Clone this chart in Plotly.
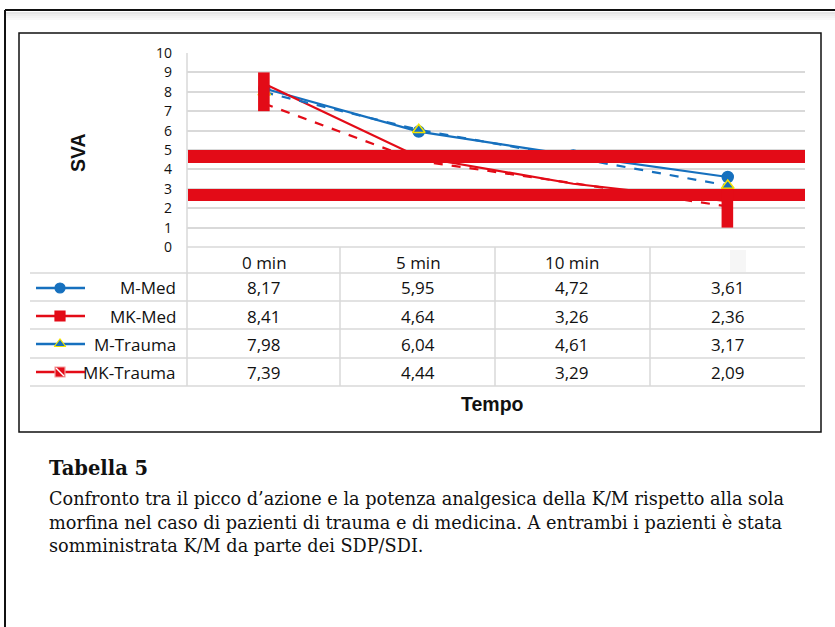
import plotly.graph_objects as go

W, H = 835, 627

categories = ["0 min", "5 min", "10 min", ""]
series_names = ["M-Med", "MK-Med", "M-Trauma", "MK-Trauma"]
m_med = [8.17, 5.95, 4.72, 3.61]
mk_med = [8.41, 4.64, 3.26, 2.36]
m_trauma = [7.98, 6.04, 4.61, 3.17]
mk_trauma = [7.39, 4.44, 3.29, 2.09]
y_ticks = list(range(0, 11))

# rendering artefacts seen in the reference (thick red bands / bars)
band_ranges = [(4.33, 5.0), (2.37, 2.99)]
bar_specs = [(0, 7.0, 9.0), (3, 1.0, 3.0)]

BLUE = "#1670BE"
RED = "#E30B17"
GRID = "#D9D9D9"


def px(x):
    return x / W


def py(y):
    return 1 - y / H


x_left, x_right = 187, 805
y_top, y_bot = 53, 247

fig = go.Figure()

xs = list(range(len(categories)))
styles = [
    (m_med, BLUE, "solid", "circle", BLUE, BLUE),
    (mk_med, RED, "solid", None, RED, RED),
    (m_trauma, BLUE, "dash", "triangle-up", BLUE, "#F5E400"),
    (mk_trauma, RED, "dash", None, RED, RED),
]
for name, (vals, col, dash, sym, mfill, mline) in zip(series_names, styles):
    mode = "lines+markers" if sym else "lines"
    fig.add_trace(go.Scatter(
        x=xs, y=vals, name=name, mode=mode,
        line=dict(color=col, width=2.2, dash=dash),
        marker=dict(symbol=sym or "circle", size=11, color=mfill,
                    line=dict(color=mline, width=1.5)),
        showlegend=False, xaxis="x", yaxis="y"))

fig.update_layout(
    width=W, height=H,
    margin=dict(l=0, r=0, t=0, b=0, pad=0),
    autosize=False,
    paper_bgcolor="white", plot_bgcolor="rgba(0,0,0,0)",
    showlegend=False,
    xaxis=dict(domain=[px(x_left), px(x_right)], range=[-0.5, 3.5],
               showgrid=False, zeroline=False, showticklabels=False,
               showline=False, fixedrange=True, automargin=False),
    yaxis=dict(domain=[py(y_bot), py(y_top)], range=[0, 10],
               tickvals=y_ticks, ticktext=[str(v) for v in y_ticks],
               showgrid=True, gridcolor=GRID, gridwidth=1.5,
               zeroline=False, showline=False, ticks="",
               ticklabelstandoff=14, automargin=False,
               tickfont=dict(family="Open Sans", size=14, color="#111"),
               fixedrange=True),
    xaxis2=dict(domain=[0, 1], range=[0, W], visible=False, fixedrange=True,
                anchor="y2", automargin=False),
    yaxis2=dict(domain=[0, 1], range=[H, 0], visible=False, fixedrange=True,
                anchor="x2", automargin=False),
)

shapes = []
annotations = []

# outer frame with shadow
for i, c in enumerate(["#E6E6E6", "#EEEEEE", "#F4F4F4", "#F9F9F9"]):
    shapes.append(dict(type="line", xref="paper", yref="paper",
                       x0=px(6), x1=1, y0=py(13 + i * 2), y1=py(13 + i * 2),
                       line=dict(color=c, width=2)))
shapes.append(dict(type="line", xref="paper", yref="paper",
                   x0=px(5), x1=1, y0=py(10), y1=py(10),
                   line=dict(color="#111", width=2)))
shapes.append(dict(type="line", xref="paper", yref="paper",
                   x0=px(5), x1=px(5), y0=py(10), y1=0,
                   line=dict(color="#111", width=2)))
# inner chart box
shapes.append(dict(type="rect", xref="paper", yref="paper",
                   x0=px(19), x1=px(821), y0=py(432), y1=py(33),
                   line=dict(color="#111", width=1.5)))

# data table lines
row_lines = [273, 301, 329, 358, 386]
shapes.append(dict(type="line", xref="paper", yref="paper",
                   x0=px(x_left), x1=px(x_right), y0=py(y_bot), y1=py(y_bot),
                   line=dict(color=GRID, width=1.5)))
for yl in row_lines:
    shapes.append(dict(type="line", xref="paper", yref="paper",
                       x0=px(30), x1=px(x_right), y0=py(yl), y1=py(yl),
                       line=dict(color=GRID, width=1.5)))
col_lines = [187, 340, 495, 650]
for i, xl in enumerate(col_lines):
    shapes.append(dict(type="line", xref="paper", yref="paper",
                       x0=px(xl), x1=px(xl), y0=py(y_top if i == 0 else y_bot),
                       y1=py(386), line=dict(color=GRID, width=1.5)))

# faint placeholder for the missing last header label
shapes.append(dict(type="rect", xref="paper", yref="paper",
                   x0=px(730), x1=px(746), y0=py(272), y1=py(250),
                   line=dict(width=0), fillcolor="#F6F6F6"))

# artefact red bands and bars
for lo, hi in band_ranges:
    shapes.append(dict(type="rect", xref="paper", yref="y",
                       x0=px(188), x1=px(x_right), y0=lo, y1=hi,
                       line=dict(width=0), fillcolor=RED, layer="above"))
for xc, lo, hi in bar_specs:
    shapes.append(dict(type="rect", xref="x", yref="y",
                       x0=xc - 0.04, x1=xc + 0.035, y0=lo, y1=hi,
                       line=dict(width=0), fillcolor=RED, layer="above"))

# table header and values
col_centers = [264, 418, 572, 728]
TF = dict(family="Open Sans", size=17, color="#111")
for cx, lab in zip(col_centers, categories):
    if lab:
        annotations.append(dict(x=px(cx), y=py(262), xref="paper", yref="paper",
                                text=lab, showarrow=False, font=TF,
                                xanchor="center", yanchor="middle"))
row_centers = [288, 316, 344, 372]
all_vals = [m_med, mk_med, m_trauma, mk_trauma]
for ry, name, vals in zip(row_centers, series_names, all_vals):
    annotations.append(dict(x=px(178), y=py(ry), xref="paper", yref="paper",
                            text=name, showarrow=False, font=TF,
                            xanchor="right", yanchor="middle"))
    for cx, v in zip(col_centers, vals):
        annotations.append(dict(x=px(cx), y=py(ry), xref="paper", yref="paper",
                                text=f"{v:.2f}".replace(".", ","),
                                showarrow=False, font=TF,
                                xanchor="center", yanchor="middle"))

# legend keys in the table
key_syms = [("circle", BLUE, BLUE), ("square", RED, RED),
            ("triangle-up", BLUE, "#F5E400"), ("square", RED, "#F4A0A0")]
key_cols = [BLUE, RED, BLUE, RED]
for ry, (sym, fc, lc), col in zip(row_centers, key_syms, key_cols):
    fig.add_trace(go.Scatter(x=[36, 85], y=[ry, ry], mode="lines",
                             line=dict(color=col, width=2.5),
                             xaxis="x2", yaxis="y2", hoverinfo="skip"))
    fig.add_trace(go.Scatter(x=[60], y=[ry], mode="markers",
                             marker=dict(symbol=sym, size=10, color=fc,
                                         line=dict(color=lc, width=1.2)),
                             xaxis="x2", yaxis="y2", hoverinfo="skip"))
# white diagonal on MK-Trauma key
fig.add_trace(go.Scatter(x=[56, 64], y=[row_centers[3] - 4, row_centers[3] + 4],
                         mode="lines", line=dict(color="white", width=1.5),
                         xaxis="x2", yaxis="y2", hoverinfo="skip"))

# axis titles
annotations.append(dict(x=px(493), y=py(404), xref="paper", yref="paper",
                        text="<b>Tempo</b>", showarrow=False,
                        font=dict(family="Liberation Sans", size=19.5, color="#111"),
                        xanchor="center", yanchor="middle"))
annotations.append(dict(x=px(78), y=py(153), xref="paper", yref="paper",
                        text="<b>SVA</b>", showarrow=False, textangle=-90,
                        font=dict(family="Liberation Sans", size=19.5, color="#111"),
                        xanchor="center", yanchor="middle"))

# caption
CF = dict(family="DejaVu Serif", size=17.7, color="#111")
annotations.append(dict(x=px(47), y=py(468), xref="paper", yref="paper",
                        text="<b>Tabella 5</b>", showarrow=False,
                        font=dict(family="DejaVu Serif", size=19.5, color="#111"),
                        xanchor="left", yanchor="middle"))
caption_lines = [
    "Confronto tra il picco d’azione e la potenza analgesica della K/M rispetto alla sola",
    "morfina nel caso di pazienti di trauma e di medicina. A entrambi i pazienti è stata",
    "somministrata K/M da parte dei SDP/SDI.",
]
for i, t in enumerate(caption_lines):
    annotations.append(dict(x=px(47), y=py(499 + i * 23.5), xref="paper", yref="paper",
                            text=t, showarrow=False, font=CF,
                            xanchor="left", yanchor="middle"))

fig.update_layout(shapes=shapes, annotations=annotations)
fig.write_html("out.html", config={"displayModeBar": False},
               post_script="document.body.style.margin='0px';document.body.style.padding='0px';")
